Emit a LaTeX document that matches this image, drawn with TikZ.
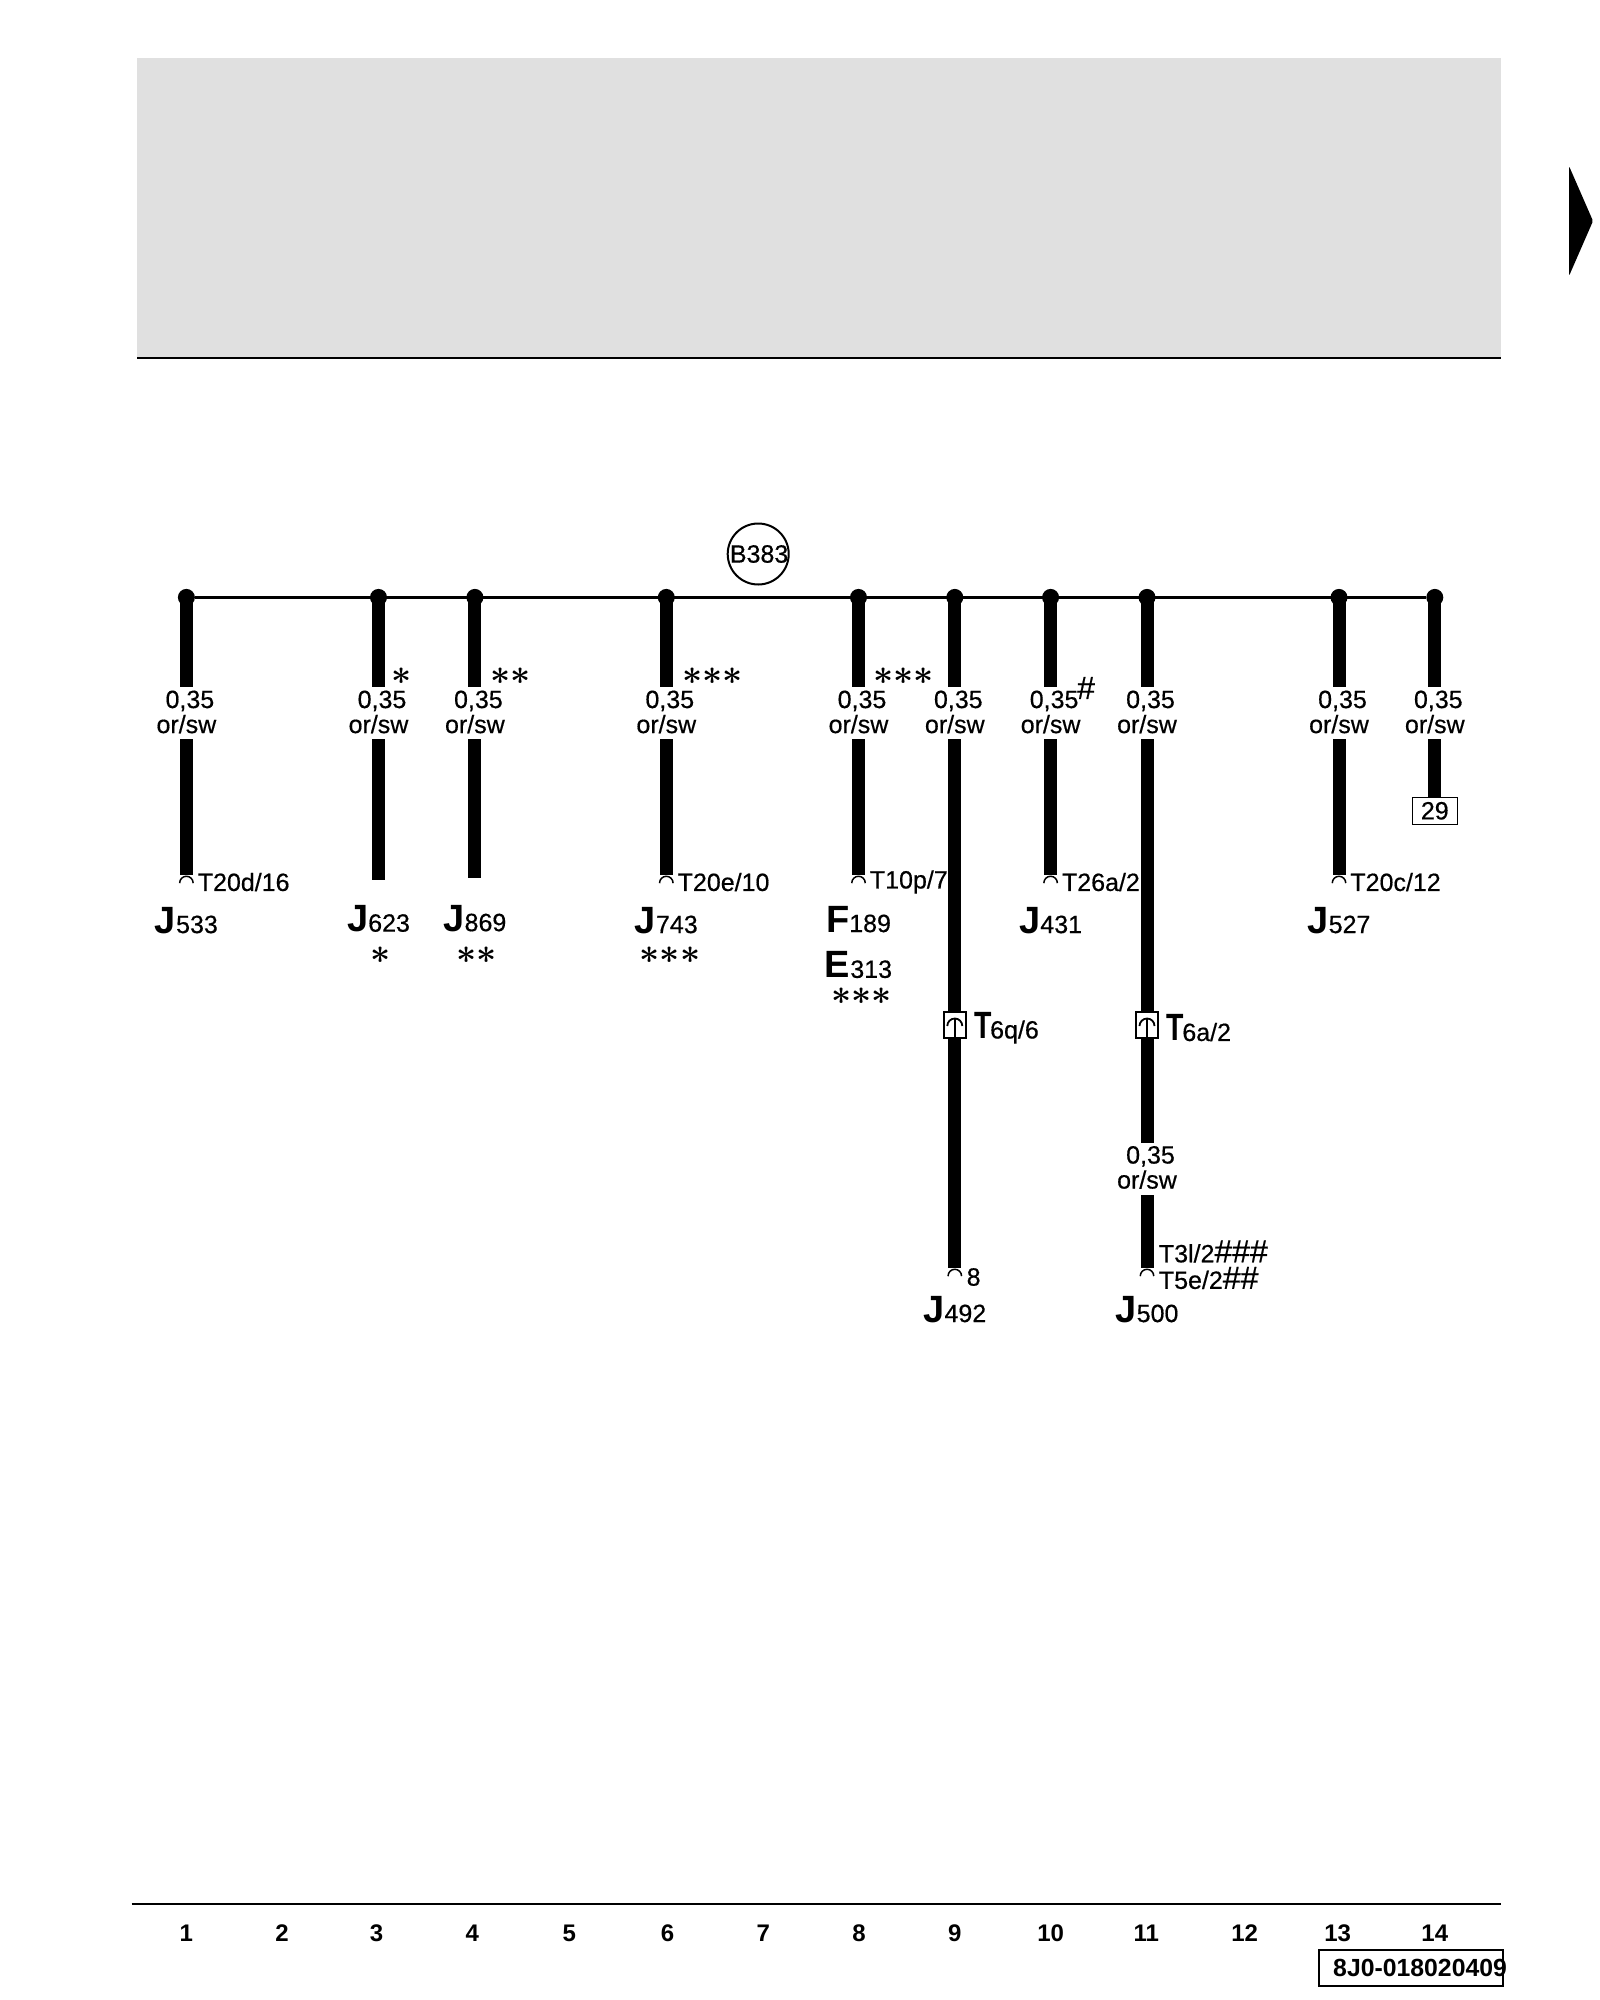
\documentclass[tikz,border=0pt]{standalone}
\usepackage{fix-cm}
\usepackage{fontspec}
\setmainfont{Liberation Sans}[UprightFeatures={FakeBold=0.5}]
\usetikzlibrary{positioning}

\newcommand{\bigfont}{\fontsize{38}{38}\selectfont\bfseries}
\newcommand{\hashes}[1]{{\fontsize{32}{32}\selectfont #1}}
\newcommand{\compname}[2]{{\bigfont #1}#2}
\newcommand{\plugname}[1]{{\bigfont\scalebox{0.75}[1]{T}}\kern-1.5pt #1}
\newcommand{\wiretext}{\raisebox{3pt}{\hspace*{7pt}0,35}\\\raisebox{3pt}{or/sw}}
\newcommand{\aster}{\mbox{\boldmath$\ast$}}

\begin{document}
\begin{tikzpicture}[
  x=1pt, y=1pt,
  node distance=81pt,
  every node/.style={inner sep=0pt, align=center, font=\fontsize{25}{25}\selectfont},
  tap/.style={circle, fill=black, minimum size=17pt},
  pinend/.style={circle, fill=white, minimum size=15pt, path picture={
    \draw[line width=3pt] (path picture bounding box.west) arc (180:0:7.5pt);}},
  plugbox/.style={draw, fill=white, line width=1.5pt, minimum width=22pt, minimum height=26pt, path picture={
    \draw[line width=1.8pt] (-7.5pt,-1pt) arc (180:0:7.5pt);
    \draw[line width=1.8pt] (0pt,6pt) -- (0pt,-12pt);}},
  wirelabel/.style={fill=white, minimum height=52pt},
  astmark/.style={font=\fontsize{35}{35}\selectfont},
  hashmark/.style={font=\fontsize{32}{32}\selectfont},
  colnum/.style={font=\fontsize{24}{24}\selectfont\bfseries},
  wire/.style={line width=13pt},
  bus/.style={line width=2.5pt}
]
\useasboundingbox (0,0) rectangle (1600,-2000);

% Header band and page turn mark
\fill[black!12] (137,-58) rectangle (1501,-357.5);
\draw[line width=2pt] (137,-357.5) -- (1501,-357.5);
\fill[black, rounded corners=1.5pt] (1569,-166) -- (1593,-221) -- (1569,-276) -- cycle;

% Taps on the bus
\node[tap] (t1) at (186.4,-597.4) {};
\node[tap] (t2) at (378.5,-597.4) {};
\node[tap] (t3) at (474.9,-597.4) {};
\node[tap] (t4) at (666.3,-597.4) {};
\node[tap] (t5) at (858.5,-597.4) {};
\node[tap] (t6) at (954.8,-597.4) {};
\node[tap] (t7) at (1050.6,-597.4) {};
\node[tap] (t8) at (1147,-597.4) {};
\node[tap] (t9) at (1339,-597.4) {};
\node[tap] (t10) at (1434.8,-597.4) {};

\node[circle, draw, line width=2pt, minimum size=61pt] (b383_ring) at (758.2,-554) {};
\node[right=3pt of b383_ring.west] (b383) {B383};

% Wire ends
\node[pinend] (p1) at (186.4,-883) {};
\coordinate (e2) at (378.5,-880.3);
\coordinate (e3) at (474.9,-877.8);
\node[pinend] (p4) at (666.3,-883) {};
\node[pinend] (p5) at (858.5,-883) {};
\node[pinend] (p6) at (954.8,-1276) {};
\node[pinend] (p7) at (1050.6,-883) {};
\node[pinend] (p8) at (1147,-1276) {};
\node[pinend] (p9) at (1339,-883) {};
\node[draw, line width=1.5pt, minimum width=45pt, minimum height=27pt] (box29) at (1434.8,-810.8) {29};

% Wires
\draw[bus] (t1) -- (t10);
\draw[wire] (t1.center) -- (p1);
\draw[wire] (t2.center) -- (e2);
\draw[wire] (t3.center) -- (e3);
\draw[wire] (t4.center) -- (p4);
\draw[wire] (t5.center) -- (p5);
\draw[wire] (t6.center) -- (p6);
\draw[wire] (t7.center) -- (p7);
\draw[wire] (t8.center) -- (p8);
\draw[wire] (t9.center) -- (p9);
\draw[wire] (t10.center) -- (box29);

% Wire labels
\node[wirelabel, below=of t1] (l1) {\wiretext};
\node[wirelabel, below=of t2] (l2) {\wiretext};
\node[wirelabel, below=of t3] (l3) {\wiretext};
\node[wirelabel, below=of t4] (l4) {\wiretext};
\node[wirelabel, below=of t5] (l5) {\wiretext};
\node[wirelabel, below=of t6] (l6) {\wiretext};
\node[wirelabel, below=of t7] (l7) {\wiretext};
\node[wirelabel, below=of t8] (l8) {\wiretext};
\node[wirelabel, below=of t9] (l9) {\wiretext};
\node[wirelabel, below=of t10] (l10) {\wiretext};
\node[wirelabel, below=536.5pt of t8] (l11) {\wiretext};

% Plugs in the long wires
\node[plugbox] (k6) at (954.8,-1025) {};
\node[plugbox] (k8) at (1147,-1025) {};
\node[right=7.5pt of k6, yshift=-3pt] (k6_name) {\plugname{6q/6}};
\node[right=7.5pt of k8, yshift=-3pt] (k8_name) {\plugname{6a/2}};

% Pin labels
\node[right=3.5pt of p1, yshift=1pt] (pl1) {T20d/16};
\node[right=3.5pt of p4, yshift=1pt] (pl4) {T20e/10};
\node[right=3.5pt of p5, yshift=1pt] (pl5) {T10p/7};
\node[right=3.5pt of p7, yshift=1pt] (pl7) {T26a/2};
\node[right=3.5pt of p9, yshift=1pt] (pl9) {T20c/12};
\node[right=4pt of p6, yshift=-1pt] (pl6) {8};
\node[right=4pt of p8, yshift=-2pt] (pl8) {T5e/2\hashes{\#\#}};
\node[above=4pt of pl8.north west, anchor=south west] (pl8b) {T3l/2\hashes{\#\#\#}};

% Component names
\node[below=16pt of p1] (j533) {\compname{J}{533}};
\node[below=25pt of e2] (j623) {\compname{J}{623}};
\node[below=27pt of e3] (j869) {\compname{J}{869}};
\node[below=16pt of p4] (j743) {\compname{J}{743}};
\node[below=15pt of p5] (f189) {\compname{F}{189}};
\node[below=19pt of f189] (e313) {\compname{E}{313}};
\node[below=16pt of p7] (j431) {\compname{J}{431}};
\node[below=16pt of p9] (j527) {\compname{J}{527}};
\node[below=12pt of p6] (j492) {\compname{J}{492}};
\node[below=12pt of p8] (j500) {\compname{J}{500}};

% Remarks
\node[astmark] (a2) at (402,-676) {\aster};
\node[astmark] (a3) at (510.6,-676) {\aster\aster};
\node[astmark] (a4) at (712.3,-676) {\aster\aster\aster};
\node[astmark] (a5) at (903.7,-676) {\aster\aster\aster};
\node[hashmark] (h7) at (1086,-688) {\#};
\node[astmark] (a2b) at (381,-955.6) {\aster};
\node[astmark] (a3b) at (476.8,-955.6) {\aster\aster};
\node[astmark] (a4b) at (670,-955.6) {\aster\aster\aster};
\node[astmark] (a5b) at (861.6,-996.4) {\aster\aster\aster};

% Column scale
\draw[line width=2pt] (131.5,-1903.6) -- (1501,-1903.6);
\node[colnum] (c1) at (186.4,-1933) {1};
\node[colnum] (c2) at (282,-1933) {2};
\node[colnum] (c3) at (376.6,-1933) {3};
\node[colnum] (c4) at (472.3,-1933) {4};
\node[colnum] (c5) at (569.3,-1933) {5};
\node[colnum] (c6) at (667.6,-1933) {6};
\node[colnum] (c7) at (763.3,-1933) {7};
\node[colnum] (c8) at (859,-1933) {8};
\node[colnum] (c9) at (954.8,-1933) {9};
\node[colnum] (c10) at (1050.6,-1933) {10};
\node[colnum] (c11) at (1146.3,-1933) {11};
\node[colnum] (c12) at (1244.6,-1933) {12};
\node[colnum] (c13) at (1337.7,-1933) {13};
\node[colnum] (c14) at (1434.8,-1933) {14};

% Drawing number
\node[draw, line width=2pt, minimum width=184pt, minimum height=36pt] (docbox) at (1410.5,-1967.5) {};
\node[right=15.5pt of docbox.west, font=\fontsize{24.8}{25}\selectfont\bfseries] (docno) {8J0-018020409};

\end{tikzpicture}
\end{document}
